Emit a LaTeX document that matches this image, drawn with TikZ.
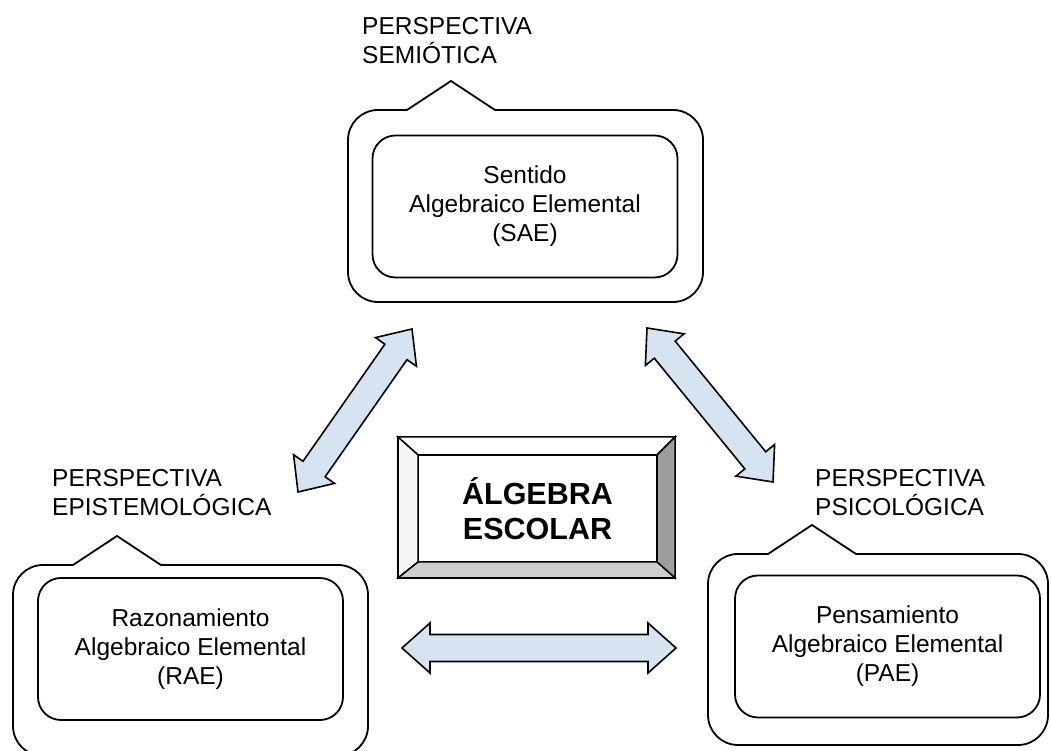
\documentclass[tikz,border=0pt]{standalone}
\usepackage{fontspec}
\setmainfont{Liberation Sans}
\usetikzlibrary{calc}

\definecolor{arrowblue}{RGB}{214,227,241}
\definecolor{bevelgray}{RGB}{158,158,158}
\definecolor{bevellight}{RGB}{206,206,206}

% double block arrow between two named coordinates
\newcommand{\fatarrow}[2]{%
  \draw[fatarrow] (#1)
    -- ($($(#1)!28pt!(#2)$)!25pt!90:(#2)$)
    -- ($($(#1)!28pt!(#2)$)!13.5pt!90:(#2)$)
    -- ($($(#2)!28pt!(#1)$)!13.5pt!-90:(#1)$)
    -- ($($(#2)!28pt!(#1)$)!25pt!-90:(#1)$)
    -- (#2)
    -- ($($(#2)!28pt!(#1)$)!25pt!90:(#1)$)
    -- ($($(#2)!28pt!(#1)$)!13.5pt!90:(#1)$)
    -- ($($(#1)!28pt!(#2)$)!13.5pt!-90:(#2)$)
    -- ($($(#1)!28pt!(#2)$)!25pt!-90:(#2)$)
    -- cycle;}

\tikzset{
  innerbox/.style={draw, line width=1.8pt, rounded corners=23pt, minimum width=305pt,
    minimum height=142pt, align=center, font=\fontsize{24.5}{29}\selectfont},
  persp/.style={anchor=west, align=left, inner sep=0pt, font=\fontsize{24.5}{29}\selectfont},
  bubble/.style={draw, line width=1.8pt, fill=white, line join=round},
  fatarrow/.style={line width=1.6pt, fill=arrowblue, line join=miter},
  bevel/.style={draw, line width=1.5pt, outer sep=0pt}
}

\begin{document}
\begin{tikzpicture}[x=1pt, y=1pt]
  \useasboundingbox (0,0) rectangle (1051,751);

  % callout frames
  \foreach \xa/\xb/\ya/\yb/\px in {348/703/449/641/451, 13/368/-5/186/117, 708/1048/6/197/812} {
    \draw[bubble] (\px-44,\yb) -- (\px,\yb+29) -- (\px+44,\yb) -- (\xb-30,\yb)
      arc (90:0:30) -- (\xb,\ya+30) arc (0:-90:30) -- (\xa+30,\ya)
      arc (-90:-180:30) -- (\xa,\yb-30) arc (180:90:30) -- cycle;
  }

  \node[innerbox] (sae) at (525,544.5) {Sentido\\Algebraico Elemental\\(SAE)};
  \node[innerbox] (rae) at (190.5,102) {Razonamiento\\Algebraico Elemental\\(RAE)};
  \node[innerbox] (pae) at (887.5,104.5) {Pensamiento\\Algebraico Elemental\\(PAE)};

  \node[persp] (semio) at (362,710) {PERSPECTIVA\\SEMIÓTICA};
  \node[persp] (episte) at (52,258.5) {PERSPECTIVA\\EPISTEMOLÓGICA};
  \node[persp] (psico) at (815,258.5) {PERSPECTIVA\\PSICOLÓGICA};

  % bevelled centre box
  \node[bevel, fill=white, minimum width=277pt, minimum height=141pt] (algout) at (536.5,243.5) {};
  \node[bevel, minimum width=239pt, minimum height=107pt] (alg) at (537.5,242.5) {};
  \filldraw[bevel, fill=white] (algout.north west) -- (algout.north east) -- (alg.north east) -- (alg.north west) -- cycle;
  \filldraw[bevel, fill=black!4] (algout.north west) -- (alg.north west) -- (alg.south west) -- (algout.south west) -- cycle;
  \filldraw[bevel, fill=bevelgray] (algout.north east) -- (algout.south east) -- (alg.south east) -- (alg.north east) -- cycle;
  \filldraw[bevel, fill=bevellight] (algout.south west) -- (algout.south east) -- (alg.south east) -- (alg.south west) -- cycle;
  \node[align=center, font=\fontsize{30.5}{35}\selectfont\bfseries] (algtext) at (alg) {ÁLGEBRA\\ESCOLAR};

  % arrows
  \coordinate (a1s) at (298,259);
  \coordinate (a1e) at (412,422);
  \coordinate (a2s) at (647,423);
  \coordinate (a2e) at (773,269);
  \coordinate (a3s) at (402,103);
  \coordinate (a3e) at (676,103);
  \fatarrow{a1s}{a1e}
  \fatarrow{a2s}{a2e}
  \fatarrow{a3s}{a3e}
\end{tikzpicture}
\end{document}
